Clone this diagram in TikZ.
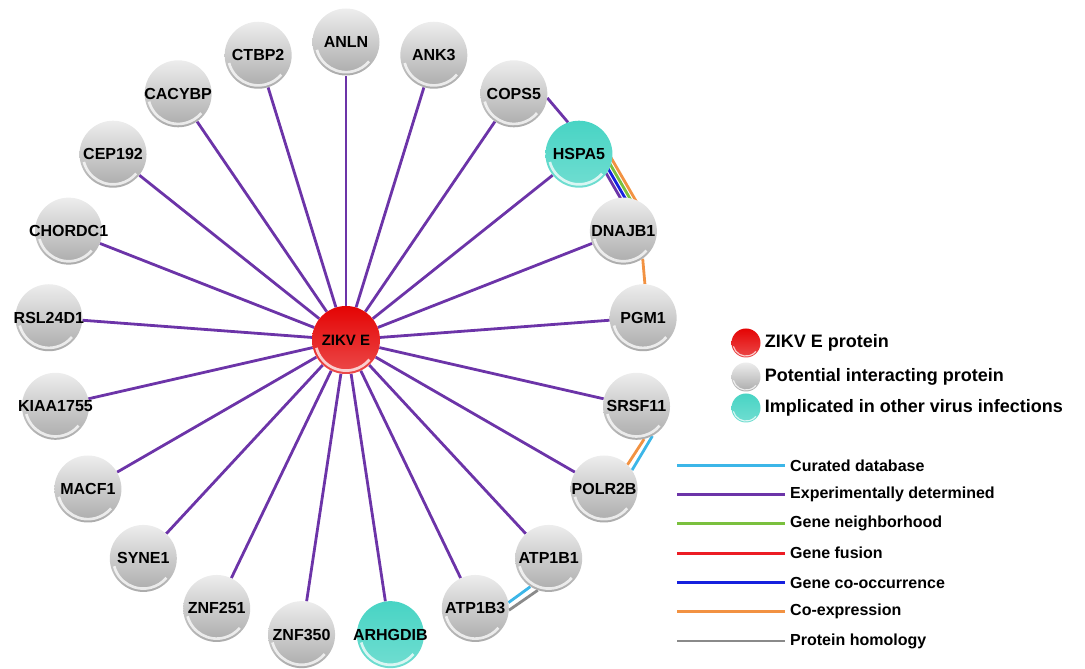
\documentclass[tikz,border=0pt]{standalone}
\usepackage{fontspec}
\setmainfont{Liberation Sans}
\usetikzlibrary{backgrounds,positioning}
\definecolor{exptpurple}{RGB}{108,52,168}
\definecolor{curatedcyan}{RGB}{60,182,232}
\definecolor{neighgreen}{RGB}{122,192,62}
\definecolor{fusionred}{RGB}{236,28,36}
\definecolor{cooccblue}{RGB}{22,32,222}
\definecolor{coexporange}{RGB}{242,146,66}
\definecolor{homolgray}{RGB}{138,138,138}
\definecolor{virusteal}{RGB}{72,212,196}
\definecolor{zikvred}{RGB}{228,4,4}
\tikzset{
  ball/.style={circle,inner sep=0pt,minimum size=#1,
    path picture={\draw[white,opacity=.75,line width={0.04*#1}]
      ([shift={(195:{0.45*#1})}]path picture bounding box.center)
      arc[start angle=195,end angle=320,radius={0.45*#1}];}},
  gene/.style={ball=#1,top color=gray!14,bottom color=gray!66},
  gene/.default=67,
  virus/.style={ball=#1,top color=virusteal,bottom color=virusteal!78!white},
  virus/.default=67,
  zikvball/.style={ball=#1,top color=zikvred,bottom color=zikvred!72!white},
  zikvball/.default=68,
  genelabel/.style={inner sep=0pt,font=\bfseries\fontsize{16}{18}\selectfont},
  zikvlabel/.style={inner sep=0pt,font=\bfseries\fontsize{15}{17}\selectfont},
  keytext/.style={inner sep=2pt,font=\bfseries\fontsize{18}{20}\selectfont},
  linetext/.style={inner xsep=5pt,font=\bfseries\fontsize{16}{18}\selectfont},
  edge/.style={line width=2.8pt},
  expt/.style={edge,exptpurple},
  curated/.style={edge,curatedcyan},
  neighbor/.style={edge,neighgreen},
  fusion/.style={edge,fusionred},
  cooccur/.style={edge,cooccblue},
  coexp/.style={edge,coexporange},
  homology/.style={edge,homolgray}
}
\def\genelist{ANLN/gene,ANK3/gene,COPS5/gene,HSPA5/virus,DNAJB1/gene,PGM1/gene,
  SRSF11/gene,POLR2B/gene,ATP1B1/gene,ATP1B3/gene,ARHGDIB/virus,ZNF350/gene,
  ZNF251/gene,SYNE1/gene,MACF1/gene,KIAA1755/gene,RSL24D1/gene,CHORDC1/gene,
  CEP192/gene,CACYBP/gene,CTBP2/gene}
\begin{document}
\begin{tikzpicture}[x=1pt,y=1pt]
\useasboundingbox (0,0) rectangle (1085,669);
% network
\node[zikvball,label={[zikvlabel]center:ZIKV E}] (zikv) at (346,329) {};
\foreach \name/\kind [count=\i from 0] in \genelist
  \node[\kind,label={[genelabel]center:\name}] (\name) at ([shift={({90-\i*360/21}:298)}]zikv) {};
\begin{scope}[on background layer]
\foreach \name/\kind in \genelist {\draw[expt] (zikv)--(\name);}
\draw[expt] (COPS5.-7)--(HSPA5.109);
\foreach \sty/\d in {expt/14,cooccur/18,neighbor/22,coexp/26}
  {\draw[\sty] ([shift={(\d*0.853,\d*0.522)}]HSPA5.center)--([shift={(\d*0.853,\d*0.522)}]DNAJB1.center);}
\draw[coexp] (DNAJB1.-55)--(PGM1.87);
\draw[coexp] (SRSF11.-77)--(POLR2B.46);
\draw[curated] (SRSF11.-62)--(POLR2B.34);
\draw[curated] (ATP1B1.-123)--(ATP1B3.10);
\draw[homology] (ATP1B1.-109)--(ATP1B3.-3);
\end{scope}
% node key
\node[zikvball=29] (keyzikv) at (746,326) {};
\node[gene=29] (keygene) at (746,292) {};
\node[virus=29] (keyvirus) at (746,261) {};
\node[keytext,right=2pt of keyzikv] (keyzikvtext) {ZIKV E protein};
\node[keytext,right=2pt of keygene] (keygenetext) {Potential interacting protein};
\node[keytext,right=2pt of keyvirus] (keyvirustext) {Implicated in other virus infections};
% line key
\foreach \sty/\txt [count=\k] in {curated/Curated database,expt/Experimentally determined,
  neighbor/Gene neighborhood,fusion/Gene fusion,cooccur/Gene co-occurrence,
  coexp/Co-expression,homology/Protein homology}
{
  \coordinate (linekey\k) at (677,{233-\k*29.3});
  \node[linetext,anchor=west] (linetext\k) at (785,{233-\k*29.3}) {\txt};
  \draw[\sty] (linekey\k)--(linetext\k.west);
}
\end{tikzpicture}
\end{document}
